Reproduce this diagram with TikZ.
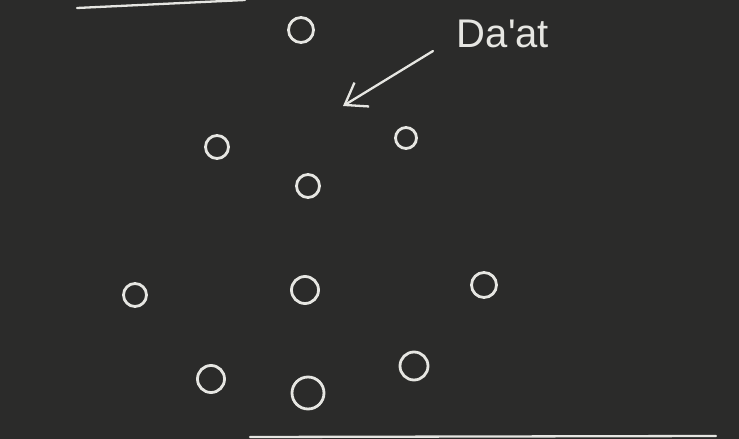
\documentclass[tikz,border=0pt]{standalone}
\usepackage{fontspec}
\setmainfont{Liberation Sans}
\usetikzlibrary{arrows.meta}
\definecolor{board}{HTML}{2B2B2A}
\definecolor{chalk}{HTML}{E6E6E2}
\tikzset{
  sef/.style={circle, draw=chalk, line width=2.8pt, inner sep=0pt},
  chalkline/.style={draw=chalk, line width=2.3pt, line cap=round},
}
\begin{document}
\begin{tikzpicture}[x=1pt,y=-1pt]
\fill[board] (0,0) rectangle (739,439);
\useasboundingbox (0,0) rectangle (739,439);
% board edges
\coordinate (tl1) at (77,8);
\coordinate (tl2) at (245,0);
\coordinate (bl1) at (250,437);
\coordinate (bl2) at (716,436);
\draw[chalkline] (tl1) -- (tl2);
\draw[chalkline] (bl1) -- (bl2);
% sefirot
\node[sef, minimum size=25pt] (keter)    at (301,30)  {};
\node[sef, minimum size=21pt] (chokhmah) at (406,138) {};
\node[sef, minimum size=23pt] (binah)    at (217,147) {};
\node[sef, minimum size=23pt] (daat)     at (308,186) {};
\node[sef, minimum size=25pt] (chesed)   at (484,285) {};
\node[sef, minimum size=23pt] (gevurah)  at (135,295) {};
\node[sef, minimum size=27pt] (tiferet)  at (305,290) {};
\node[sef, minimum size=28pt] (netzach)  at (414,366) {};
\node[sef, minimum size=27pt] (hod)      at (211,379) {};
\node[sef, minimum size=32pt] (yesod)    at (308,393) {};
% label and arrow
\node[text=chalk, font=\fontsize{40}{42}\selectfont, anchor=center] (lbl) at (503,34) {Da\textquotesingle at};
\coordinate (arrtail) at (433,51);
\coordinate (arrhead) at (343,106);
\draw[chalkline, -{Straight Barb[length=20pt,width=28pt]}] (arrtail) -- (arrhead);
\end{tikzpicture}
\end{document}
